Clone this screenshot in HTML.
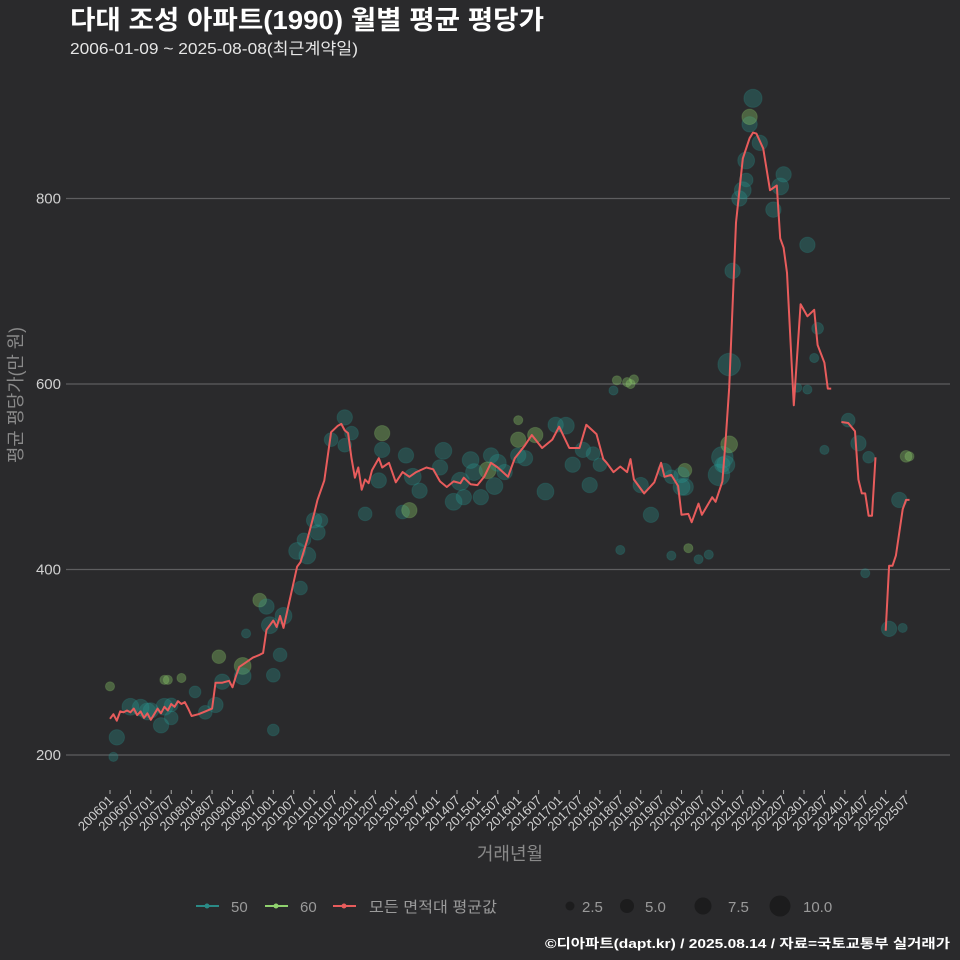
<!DOCTYPE html>
<html><head><meta charset="utf-8"><style>
html,body{margin:0;padding:0;background:#2a2a2c;}
svg{display:block;}
text{font-family:"Liberation Sans","Noto Sans CJK KR",sans-serif;}
</style></head><body>
<svg id="chart" width="960" height="960" viewBox="0 0 960 960" xmlns="http://www.w3.org/2000/svg">
<rect x="0" y="0" width="960" height="960" fill="#2a2a2c"/>
<text x="70" y="29" fill="#ffffff" font-size="26" font-weight="bold" textLength="474" lengthAdjust="spacingAndGlyphs">다대 조성 아파트(1990) 월별 평균 평당가</text>
<text x="70" y="54" fill="#e6e6e6" font-size="16" textLength="288" lengthAdjust="spacingAndGlyphs">2006-01-09 ~ 2025-08-08(최근계약일)</text>
<g id="grid"></g>
<g id="yticks"></g>
<g id="xticks"></g>
<g id="bubbles"></g>
<g id="lineg"></g>
<text transform="translate(22,395) rotate(-90)" text-anchor="middle" fill="#8a8a8a" font-size="18" textLength="136" lengthAdjust="spacingAndGlyphs">평균 평당가(만 원)</text>
<text x="510" y="860" text-anchor="middle" fill="#8a8a8a" font-size="18">거래년월</text>
<g font-size="15" fill="#9a9a9a">
  <g>
    <line x1="196" y1="906" x2="219" y2="906" stroke="#2a8a86" stroke-width="2"/><circle cx="207" cy="906" r="2.5" fill="#2a8a86"/>
    <text x="231" y="912" fill="#9a9a9a">50</text></g>
  <g>
    <line x1="265" y1="906" x2="288" y2="906" stroke="#8fd16e" stroke-width="2"/><circle cx="276" cy="906" r="2.5" fill="#8fd16e"/>
    <text x="300" y="912" fill="#9a9a9a">60</text></g>
  <g>
    <line x1="333" y1="906" x2="356" y2="906" stroke="#e85c5c" stroke-width="2"/><circle cx="344" cy="906" r="2.5" fill="#e85c5c"/>
    <text x="369" y="912" fill="#9a9a9a" textLength="128" lengthAdjust="spacingAndGlyphs">모든 면적대 평균값</text></g>
  <g fill="#1c1c1d">
    <circle cx="570" cy="906" r="4.5"/><text x="582" y="912" fill="#9a9a9a">2.5</text>
    <circle cx="627" cy="906" r="7"/><text x="645" y="912" fill="#9a9a9a">5.0</text>
    <circle cx="703" cy="906" r="8.5"/><text x="728" y="912" fill="#9a9a9a">7.5</text>
    <circle cx="780" cy="906" r="10.5"/><text x="803" y="912" fill="#9a9a9a">10.0</text>
  </g>
</g>
<text x="950" y="948" text-anchor="end" fill="#ffffff" font-size="13" font-weight="bold" textLength="405" lengthAdjust="spacingAndGlyphs">©디아파트(dapt.kr) / 2025.08.14 / 자료=국토교통부 실거래가</text>
</svg>
<script>
// average line: month (YYYYMM) and value; null = gap
const lineMonths = ["200601","200602","200603","200604","200605","200606","200607","200608","200609","200610","200611","200612",
"200701","200702","200703","200704","200705","200706","200707","200708","200709","200710","200711","200712",
"200801","200803","200805","200807","200808","200810","200812","200901","200902","200903","200905","200907","200909","200910","200911",
"201001","201002","201003","201004","201006","201008","201009","201011","201101","201102","201104","201106","201108","201109","201110","201111","201112",
"201201","201202","201203","201204","201205","201206","201208","201209","201211","201301","201303","201305","201307","201310","201312",
"201402","201404","201406","201408","201409","201411","201501","201503","201505","201507","201510","201512",
"201603","201605","201608","201611","201701","201704","201707","201709","201712","201802","201803","201805","201807","201809","201810","201811",
"201902","201905","201907","201908","201910","201912","202001","202003","202004","202006","202007","202010","202011",
"202101","202102","202103","202105","202107","202109","202110","202111","202201","202203","202205","202206","202207","202208","202210","202212",
"202302","202304","202305","202307","202308","202309","202310",
"202312","202402","202404","202405","202406","202407","202408","202409","202410","202411",
"202501","202502","202503","202504","202506","202507","202508"];
const lineValues = [239,244,237,247,246,248,246,250,243,247,240,245,
238,244,250,245,252,248,255,252,258,255,257,250,
242,244,247,250,278,278,280,273,285,295,300,305,308,310,335,
345,338,350,337,370,403,408,432,460,475,496,548,555,557,550,547,520,
499,510,486,497,493,507,520,510,515,494,505,500,505,510,508,
495,489,495,493,499,492,491,500,515,510,500,520,
534,545,531,540,554,531,531,556,546,519,515,505,511,505,519,497,
482,494,515,500,502,490,459,460,451,471,459,478,473,
495,542,596,774,843,865,871,870,854,809,814,757,747,720,577,686,
673,680,642,623,595,595,null,
559,558,549,497,482,482,458,458,521,null,
334,404,404,415,465,475,475];
// bubbles: month, value, count, size type
const bubMonths = ["200601","200603","200602","200607","200610","200701","200704","200705","200707","200705","200706","200710","200802","200805","200808","200810","200809","201001","201001","200904","200905","200909","200911","200912","201003","201009","201008","201010","201101","201103","201110","201110","201112","201209","201209","201304","201303","201305","201403","201411","201505","201504","201409","201502","201507","201601","201609","201612","201601","201601","201705","201708","201710","201801","201806","201901","201809","201810","201811","202002","201908","202002","202001","201904","201910","202012","202102","202101","202103","202103","202101","202104","202106","202107","202108","202108","202109","202109","202110","202112","202206","202207","202204","202302","202305","202304","202307","202302","202211","202402","202405","202408","202407","202502","202505","202506","202507","202508","202001","202009","202003","202006","201807","201910","201805",
"201306","201308","201402","201406","201408","201412","201506","201509","201603","201606","201703","201711","201204","201208","201011","201004","200904","200707","200612","201102","201106"];
const bubValues = [274,219,198,252,251,248,232,252,254,281,281,283,268,246,254,279,306,227,286,296,331,367,360,340,308,380,420,432,453,453,564,534,547,547,529,523,462,464,528,518,523,507,478,478,515,523,484,556,540,561,513,529,491,513,604,491,602,600,605,507,507,489,502,459,500,502,513,521,621,535,513,722,800,809,820,841,880,888,908,860,813,826,788,750,660,628,529,594,596,561,536,521,396,336,475,337,522,522,489,416,423,411,421,415,593,
500,485,510,473,495,505,490,505,520,545,555,525,460,496,415,350,285,240,247,440,540];
const bubCounts = [1,4,1,5,5,4,4,5,3,1,1,1,2,3,4,4,3,2,3,5,1,3,4,5,3,3,5,3,4,3,4,3,3,4,4,4,3,4,5,5,4,5,4,4,5,4,5,4,4,1,4,4,4,3,1,4,1,1,1,3,3,5,4,4,3,9,6,9,10,5,4,4,4,5,3,5,4,4,6,4,5,4,4,4,2,1,1,1,1,3,4,2,1,4,4,1,2,1,5,1,1,1,1,1,1,
5,4,4,5,6,5,5,4,4,4,5,3,3,4,5,5,5,3,5,4,3];
const bubTypes = ["60","50","50","50","50","50","50","50","50","60","60","60","50","50","50","50","60","50","50","60","50","60","50","50","50","50","50","50","50","50","50","50","50","60","50","50","50","60","50","50","50","60","50","50","50","50","50","50","60","60","50","50","50","50","60","50","60","60","60","60","50","50","50","50","50","50","50","50","50","60","50","50","50","50","50","50","50","60","50","50","50","50","50","50","50","50","50","50","50","50","50","50","50","50","50","50","60","60","50","50","60","50","50","50","50",
"50","50","50","50","50","50","50","50","50","60","50","50","50","50","50","50","50","50","50","50","50"];
const yTicks = [200,400,600,800];

const NS="http://www.w3.org/2000/svg";
const X0=110, PXM=3.402, Y0=755, PXV=0.9275;
function mIndex(s){return (parseInt(s.slice(0,4))-2006)*12+parseInt(s.slice(4,6))-1;}
function xs(s){return X0+mIndex(s)*PXM;}
function ys(v){return Y0-(v-200)*PXV;}
function mk(tag,attrs,parent){const e=document.createElementNS(NS,tag);for(const k in attrs)e.setAttribute(k,attrs[k]);parent.appendChild(e);return e;}

const grid=document.getElementById('grid'), yt=document.getElementById('yticks'), xt=document.getElementById('xticks');
yTicks.forEach(v=>{
  const l=mk('line',{x1:66,x2:950,y1:ys(v),y2:ys(v),stroke:'#5e5e60','stroke-width':1.2},grid);
  
  
  const t=mk('text',{x:61,y:ys(v)+5,'text-anchor':'end',fill:'#d0d0d0','font-size':15},yt);
  t.textContent=v;
  
  
});
for(let y=2006;y<=2025;y++){for(const mm of ["01","07"]){
  const s=y+mm; const x=xs(s);
  const tk=mk('line',{x1:x,x2:x,y1:790,y2:794,stroke:'#aaaaaa','stroke-width':1},xt);
  
  
  const t=mk('text',{transform:`translate(${x+4},${801}) rotate(-45)`,'text-anchor':'end',fill:'#d0d0d0','font-size':13},xt);
  t.textContent=s;
  
  
}}
const bg=document.getElementById('bubbles');
bubMonths.forEach((m,i)=>{
  const c=bubTypes[i]==="60"?'#8fd16e':'#2a9a94';
  const r=1.5+Math.sqrt(bubCounts[i])*3.1;
  const e=mk('circle',{cx:xs(m),cy:ys(bubValues[i]),r:r,fill:c,'fill-opacity':bubTypes[i]==="60"?0.35:0.3,stroke:c,'stroke-opacity':0.2},bg);
  
  
});
const lg=document.getElementById('lineg');
let d='',pen=false;
lineMonths.forEach((m,i)=>{
  const v=lineValues[i];
  if(v===null){pen=false;return;}
  d+=(pen?'L':'M')+xs(m).toFixed(1)+' '+ys(v).toFixed(1)+' ';pen=true;
});
const p=mk('path',{d:d,fill:'none',stroke:'#e85c5c','stroke-width':2,'stroke-linejoin':'round'},lg);


</script>
</body></html>
